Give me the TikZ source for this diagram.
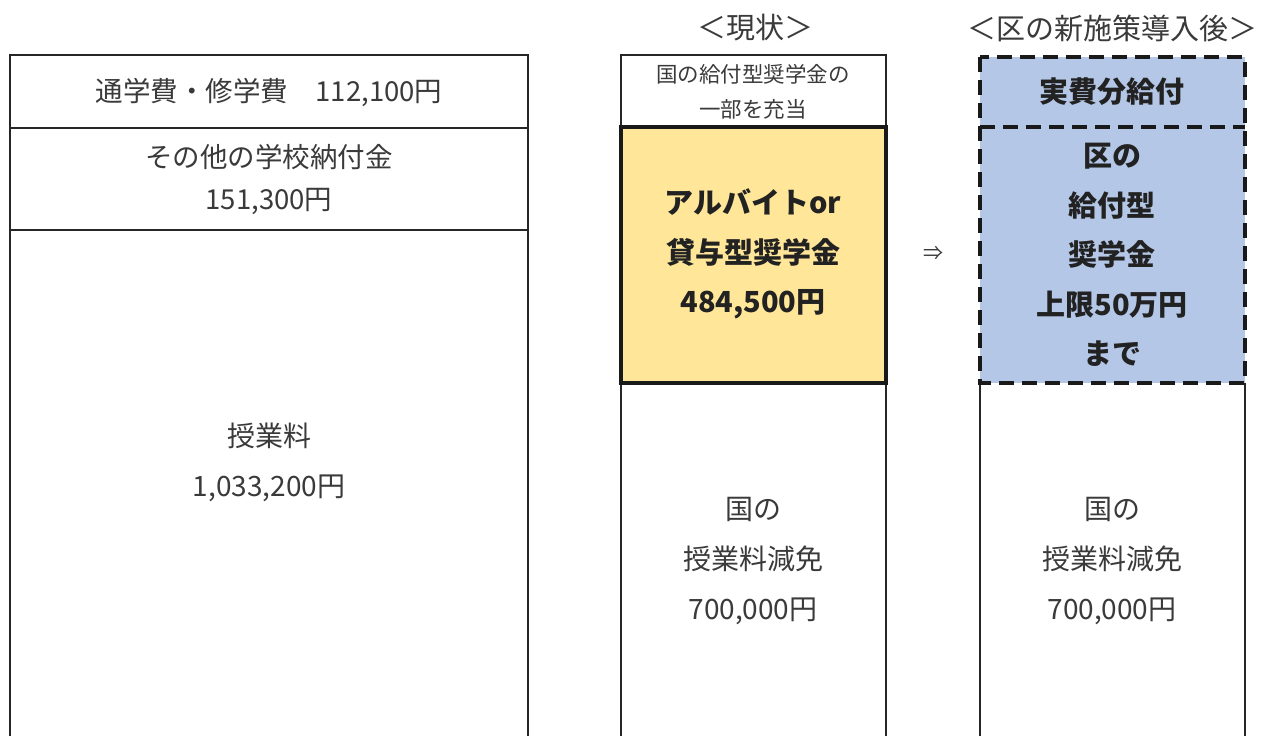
\documentclass[tikz,border=0pt]{standalone}
\usepackage{fontspec}
\setmainfont{Noto Sans CJK JP}
\definecolor{txt}{HTML}{3A3A3A}
\definecolor{btxt}{HTML}{222222}
\definecolor{ylw}{HTML}{FFE699}
\definecolor{blu}{HTML}{B4C7E7}
\begin{document}
\begin{tikzpicture}[x=1pt,y=-1pt,
  every node/.style={text=txt, align=center, inner sep=0pt},
  lbl/.style={font=\fontsize{28}{50}\selectfont},
  lbltwo/.style={font=\fontsize{27.5}{42}\selectfont},
  smalllbl/.style={font=\fontsize{21.5}{35}\selectfont},
  boldlbl/.style={text=btxt, font=\fontsize{29}{49.5}\selectfont\bfseries},
  headlbl/.style={font=\fontsize{29}{30}\selectfont},
  thin/.style={line width=2pt, draw=black!85},
  thick/.style={line width=3.5pt, draw=black!90},
  dashbox/.style={line width=3.5pt, draw=black!90, dash pattern=on 15pt off 8pt}]
\useasboundingbox (0,0) rectangle (1261,736);
\fill[white] (0,0) rectangle (1261,736);
% left column
\draw[thin] (10,740) -- (10,55) -- (528,55) -- (528,740);
\draw[thin] (10,128) -- (528,128);
\draw[thin] (10,230) -- (528,230);
\node[lbltwo] (fee1) at (269,92) {通学費・修学費　112,100円};
\node[lbltwo] (fee2) at (269,179) {その他の学校納付金\\151,300円};
\node[lbl] (fee3) at (269,462) {授業料\\1,033,200円};
% middle column
\node[headlbl] (hcur) at (755,28) {＜現状＞};
\draw[thin] (621,740) -- (621,55) -- (886,55) -- (886,740);
\filldraw[fill=ylw, thick] (621,127) rectangle (886,383);
\node[smalllbl] (natpart) at (753,92) {国の給付型奨学金の\\一部を充当};
\node[boldlbl] (work) at (753,254) {アルバイトor\\貸与型奨学金\\484,500円};
\node[lbl] (natred1) at (753,561) {国の\\授業料減免\\700,000円};
% arrow
\node[font=\fontsize{20}{20}\selectfont] (arr) at (933,253) {⇒};
% right column
\node[headlbl] (hnew) at (1112,28) {＜区の新施策導入後＞};
\draw[thin] (980,383) -- (980,740);
\draw[thin] (1245,383) -- (1245,740);
\fill[blu] (980,57) rectangle (1245,383);
\draw[dashbox] (980,57) rectangle (1245,383);
\draw[dashbox] (980,127) -- (1245,127);
\node[boldlbl] (actual) at (1112,92) {実費分給付};
\node[boldlbl] (ward) at (1112,255) {区の\\給付型\\奨学金\\上限50万円\\まで};
\node[lbl] (natred2) at (1112,561) {国の\\授業料減免\\700,000円};
\end{tikzpicture}
\end{document}
